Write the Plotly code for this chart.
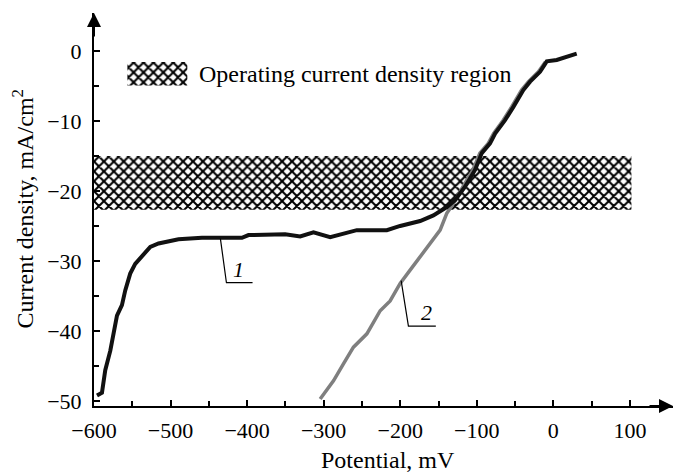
import plotly.graph_objects as go

# ---- data ----
curve1_x = [-596.1, -589.6, -585.3, -578.7, -570.0, -563.5, -559.2, -552.7, -546.2, -537.3,
            -526.5, -515.7, -489.6, -459.0, -406.8, -398.2, -367.6, -350.3, -330.7, -313.3,
            -291.5, -256.7, -217.5, -200.1, -174.0, -156.7, -139.2, -128.3, -115.3, -102.3,
            -93.5, -82.7, -76.1, -63.1, -52.2, -39.2, -30.4, -17.4, -8.6, 4.4, 30.5]
curve1_y = [-49.2, -48.8, -45.6, -42.8, -37.8, -36.3, -34.2, -31.8, -30.4, -29.4,
            -28.0, -27.5, -26.9, -26.7, -26.7, -26.3, -26.2, -26.2, -26.5, -25.9,
            -26.6, -25.6, -25.6, -25.0, -24.3, -23.5, -22.3, -21.3, -19.4, -17.0,
            -14.6, -13.2, -11.8, -9.9, -8.0, -5.6, -4.4, -3.0, -1.5, -1.3, -0.4]

curve2_x = [-304.6, -287.2, -274.2, -261.1, -243.6, -226.2, -213.2, -200.1, -187.1, -174.0,
            -165.3, -147.9, -139.2, -130.5, -118.0, -105.0, -96.0, -85.0, -78.0, -65.5,
            -54.5, -41.5, -32.5, -19.5, -10.5]
curve2_y = [-49.7, -47.1, -44.7, -42.3, -40.4, -37.1, -35.7, -33.2, -31.3, -29.4,
            -28.0, -25.6, -23.2, -21.8, -19.4, -17.0, -14.6, -13.2, -11.8, -9.9,
            -8.0, -5.6, -4.4, -3.0, -1.6]

band_x = [-600, 102]          # operating current density region (mV)
band_y = [-22.7, -15.0]       # (mA/cm2)

x_ticks = [-600, -500, -400, -300, -200, -100, 0, 100]
y_ticks = [0, -10, -20, -30, -40, -50]
x_minor = [-550, -450, -350, -250, -150, -50, 50]
y_minor = [-5, -15, -25, -35, -45]

legend_text = "Operating current density region"
label1 = "1"
label2 = "2"
leader1_x = [-434.9, -427.0, -392.9]
leader1_y = [-26.8, -33.1, -33.1]
leader2_x = [-198.8, -189.3, -153.5]
leader2_y = [-32.8, -39.3, -39.3]

X_RANGE = [-600, 156.3]
Y_RANGE = [-50.7, 5.4]

FONT = "Liberation Serif, Times New Roman, serif"
pattern = dict(shape="x", fgcolor="black", bgcolor="white", size=7, solidity=0.5, fgopacity=1)

fig = go.Figure()

# hatched band
fig.add_trace(go.Scatter(
    x=[band_x[0], band_x[1], band_x[1], band_x[0], band_x[0]],
    y=[band_y[0], band_y[0], band_y[1], band_y[1], band_y[0]],
    mode="none", fill="toself", fillcolor="white", fillpattern=pattern,
    hoverinfo="skip", showlegend=False))

# legend swatch (hatched box)
lx = [-556.4, -478.1]
ly = [-4.95, -1.6]
fig.add_trace(go.Scatter(
    x=[lx[0], lx[1], lx[1], lx[0], lx[0]],
    y=[ly[0], ly[0], ly[1], ly[1], ly[0]],
    mode="none", fill="toself", fillcolor="white", fillpattern=pattern,
    hoverinfo="skip", showlegend=False))

# curves
fig.add_trace(go.Scatter(x=curve2_x, y=curve2_y, mode="lines",
                         line=dict(color="#7f7f7f", width=3.5), showlegend=False))
fig.add_trace(go.Scatter(x=curve1_x, y=curve1_y, mode="lines",
                         line=dict(color="#111111", width=4), showlegend=False))

# leader lines
fig.add_trace(go.Scatter(x=leader1_x, y=leader1_y, mode="lines",
                         line=dict(color="black", width=1.2), showlegend=False))
fig.add_trace(go.Scatter(x=leader2_x, y=leader2_y, mode="lines",
                         line=dict(color="black", width=1.2), showlegend=False))

annotations = [
    dict(x=-465.5, y=-3.35, xref="x", yref="y", text=legend_text, showarrow=False,
         xanchor="left", yanchor="middle", font=dict(family=FONT, size=24, color="black")),
    dict(x=-411, y=-31.2, xref="x", yref="y", text="<i>" + label1 + "</i>", showarrow=False,
         font=dict(family=FONT, size=22, color="black")),
    dict(x=-166, y=-37.4, xref="x", yref="y", text="<i>" + label2 + "</i>", showarrow=False,
         font=dict(family=FONT, size=22, color="black")),
    # axis titles
    dict(x=0.507, y=0, xref="paper", yref="paper", yshift=-54, yanchor="middle", xanchor="center",
         text="Potential, mV", showarrow=False, font=dict(family=FONT, size=24, color="black")),
    dict(x=0, y=0.5, xref="paper", yref="paper", xshift=-72, xanchor="center", yanchor="middle",
         text="Current density, mA/cm<sup>2</sup>",
         textangle=-90, showarrow=False, font=dict(family=FONT, size=24, color="black")),
    # axis arrows
    dict(x=0, y=1, xref="paper", yref="paper", ax=0, ay=25, axref="pixel", ayref="pixel",
         showarrow=True, arrowhead=2, arrowsize=1.4, arrowwidth=2, arrowcolor="black", text=""),
    dict(x=1, y=0, xref="paper", yref="paper", ax=-25, ay=0, axref="pixel", ayref="pixel",
         showarrow=True, arrowhead=2, arrowsize=1.4, arrowwidth=2, arrowcolor="black", text=""),
]

axis_common = dict(showgrid=False, zeroline=False, showline=True, linecolor="black", linewidth=2,
                   ticks="inside", ticklen=6, tickwidth=1.5, tickcolor="black",
                   tickfont=dict(family=FONT, size=22, color="black"))

fig.update_layout(
    width=675, height=474,
    margin=dict(l=94, r=2, t=13, b=68),
    paper_bgcolor="white", plot_bgcolor="white",
    showlegend=False,
    annotations=annotations,
    xaxis=dict(range=X_RANGE, tickvals=x_ticks, ticktext=[str(v).replace("-", "\u2212") for v in x_ticks],
               minor=dict(tickvals=x_minor, ticks="inside", ticklen=5, tickwidth=1.5, tickcolor="black"),
               ticklabelstandoff=4, **axis_common),
    yaxis=dict(range=Y_RANGE, tickvals=y_ticks, ticktext=[str(v).replace("-", "\u2212") for v in y_ticks],
               minor=dict(tickvals=y_minor, ticks="inside", ticklen=5, tickwidth=1.5, tickcolor="black"),
               ticklabelstandoff=6, **axis_common),
)

fig.write_html("out.html")
